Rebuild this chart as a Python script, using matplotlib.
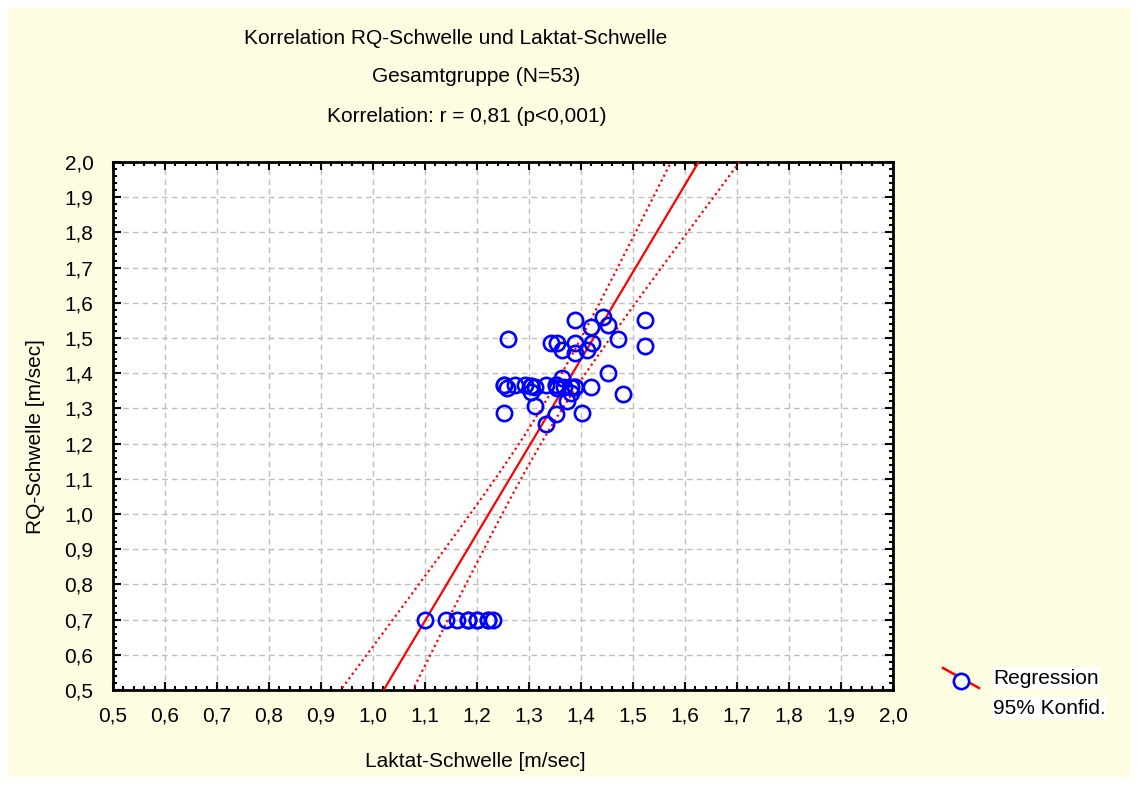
import numpy as np
import matplotlib
matplotlib.use("Agg")
import matplotlib.pyplot as plt
from matplotlib.patches import Rectangle
from matplotlib.lines import Line2D
from matplotlib.ticker import MultipleLocator, FuncFormatter

plt.rcParams["font.family"] = ["Liberation Sans", "DejaVu Sans"]

# Laktat-Schwelle (x) and RQ-Schwelle (y), m/sec
laktat = [1.100, 1.140, 1.161, 1.183, 1.200, 1.221, 1.230,
          1.389, 1.442, 1.420, 1.451, 1.524, 1.260, 1.342, 1.353, 1.363,
          1.389, 1.389, 1.412, 1.421, 1.472, 1.524, 1.451, 1.480,
          1.251, 1.258, 1.274, 1.292, 1.303, 1.303, 1.312, 1.333, 1.351,
          1.353, 1.363, 1.367, 1.381, 1.381, 1.389, 1.420, 1.373, 1.312,
          1.251, 1.402, 1.351, 1.333,
          1.251, 1.303, 1.351, 1.389, 1.200, 1.183, 1.221]
rq = [0.698, 0.698, 0.698, 0.698, 0.698, 0.698, 0.698,
      1.551, 1.559, 1.532, 1.538, 1.551, 1.498, 1.485, 1.485, 1.465,
      1.485, 1.458, 1.465, 1.485, 1.498, 1.478, 1.400, 1.340,
      1.367, 1.359, 1.367, 1.367, 1.365, 1.347, 1.362, 1.367, 1.367,
      1.359, 1.387, 1.362, 1.362, 1.345, 1.362, 1.362, 1.321, 1.308,
      1.288, 1.288, 1.283, 1.255,
      1.367, 1.365, 1.367, 1.362, 0.698, 0.698, 0.698]

# regression line as drawn in the picture: RQ = a + b * Laktat
reg_a = -2.028
reg_b = 2.477

title_lines = ["Korrelation RQ-Schwelle und Laktat-Schwelle",
               "Gesamtgruppe (N=53)",
               "Korrelation: r = 0,81 (p<0,001)"]
legend_labels = ["Regression", "95% Konfid."]

x = np.array(laktat)
y = np.array(rq)
n = len(x)

# 95% confidence band around the regression line
xs = np.linspace(0.5, 2.0, 300)
yhat = reg_a + reg_b * xs
resid = y - (reg_a + reg_b * x)
s = np.sqrt(np.sum(resid ** 2) / (n - 2))
sxx = np.sum((x - x.mean()) ** 2)
t = 2.008
ci = t * s * np.sqrt(1 / n + (xs - x.mean()) ** 2 / sxx)

W, H = 1138, 785
fig = plt.figure(figsize=(W / 100, H / 100), dpi=100)
fig.patch.set_facecolor("white")
fig.patches.append(Rectangle((8 / W, 8 / H), 1 - 16 / W, 1 - 16 / H,
                             transform=fig.transFigure, facecolor="#fffde1",
                             edgecolor="none", zorder=-10))

ax = fig.add_axes([113 / W, 1 - 690 / H, 780 / W, 528 / H])
ax.set_facecolor("white")

ax.plot(xs, yhat, color="red", lw=1.6, zorder=3)
ax.plot(xs, yhat + ci, color="red", lw=1.6, ls=(0, (1, 1.5)), zorder=3)
ax.plot(xs, yhat - ci, color="red", lw=1.6, ls=(0, (1, 1.5)), zorder=3)
ax.plot(x, y, ls="none", marker="o", ms=11, mfc="none", mec="#0000ff",
        mew=1.9, zorder=4)

ax.set_xlim(0.5, 2.0)
ax.set_ylim(0.5, 2.0)
ax.xaxis.set_major_locator(MultipleLocator(0.1))
ax.yaxis.set_major_locator(MultipleLocator(0.1))
ax.xaxis.set_minor_locator(MultipleLocator(0.02))
ax.yaxis.set_minor_locator(MultipleLocator(0.02))
fmt = FuncFormatter(lambda v, p: f"{v:.1f}".replace(".", ","))
ax.xaxis.set_major_formatter(fmt)
ax.yaxis.set_major_formatter(fmt)
ax.tick_params(which="both", direction="in", top=True, right=True,
               labelsize=15, width=1.5, colors="black")
ax.tick_params(which="major", length=6)
ax.tick_params(which="minor", length=3)
ax.tick_params(axis="x", which="major", pad=12)
ax.tick_params(axis="y", which="major", pad=14)
for sp in ax.spines.values():
    sp.set_linewidth(2)
ax.grid(True, which="major", color="#bdbdbd", ls=(0, (4, 3)), lw=1)

ax.set_xlabel("Laktat-Schwelle [m/sec]", fontsize=15)
ax.set_ylabel("RQ-Schwelle [m/sec]", fontsize=15)
ax.xaxis.set_label_coords((475 - 113) / 780, (690 - 752) / 528)
ax.yaxis.set_label_coords((45 - 113) / 780, (690 - 437) / 528)

for txt, cx, cy in zip(title_lines, [456, 476, 467], [38, 76, 116]):
    fig.text(cx / W, 1 - cy / H, txt, ha="center", va="center", fontsize=15)

# legend drawn as in the original: slanted red line with circle, boxed labels
fig.add_artist(Line2D([943 / W, 979 / W], [1 - 668 / H, 1 - 688 / H],
                      color="red", lw=1.8, transform=fig.transFigure))
fig.add_artist(Line2D([961 / W], [1 - 681 / H], ls="none", marker="o", ms=11,
                      mfc="white", mec="#0000ff", mew=1.9,
                      transform=fig.transFigure))
for lbl, cy in zip(legend_labels, [678, 708]):
    fig.text(993 / W, 1 - cy / H, lbl, ha="left", va="center", fontsize=15,
             bbox=dict(facecolor="white", edgecolor="none", pad=1))

fig.savefig("out.png", dpi=100)
